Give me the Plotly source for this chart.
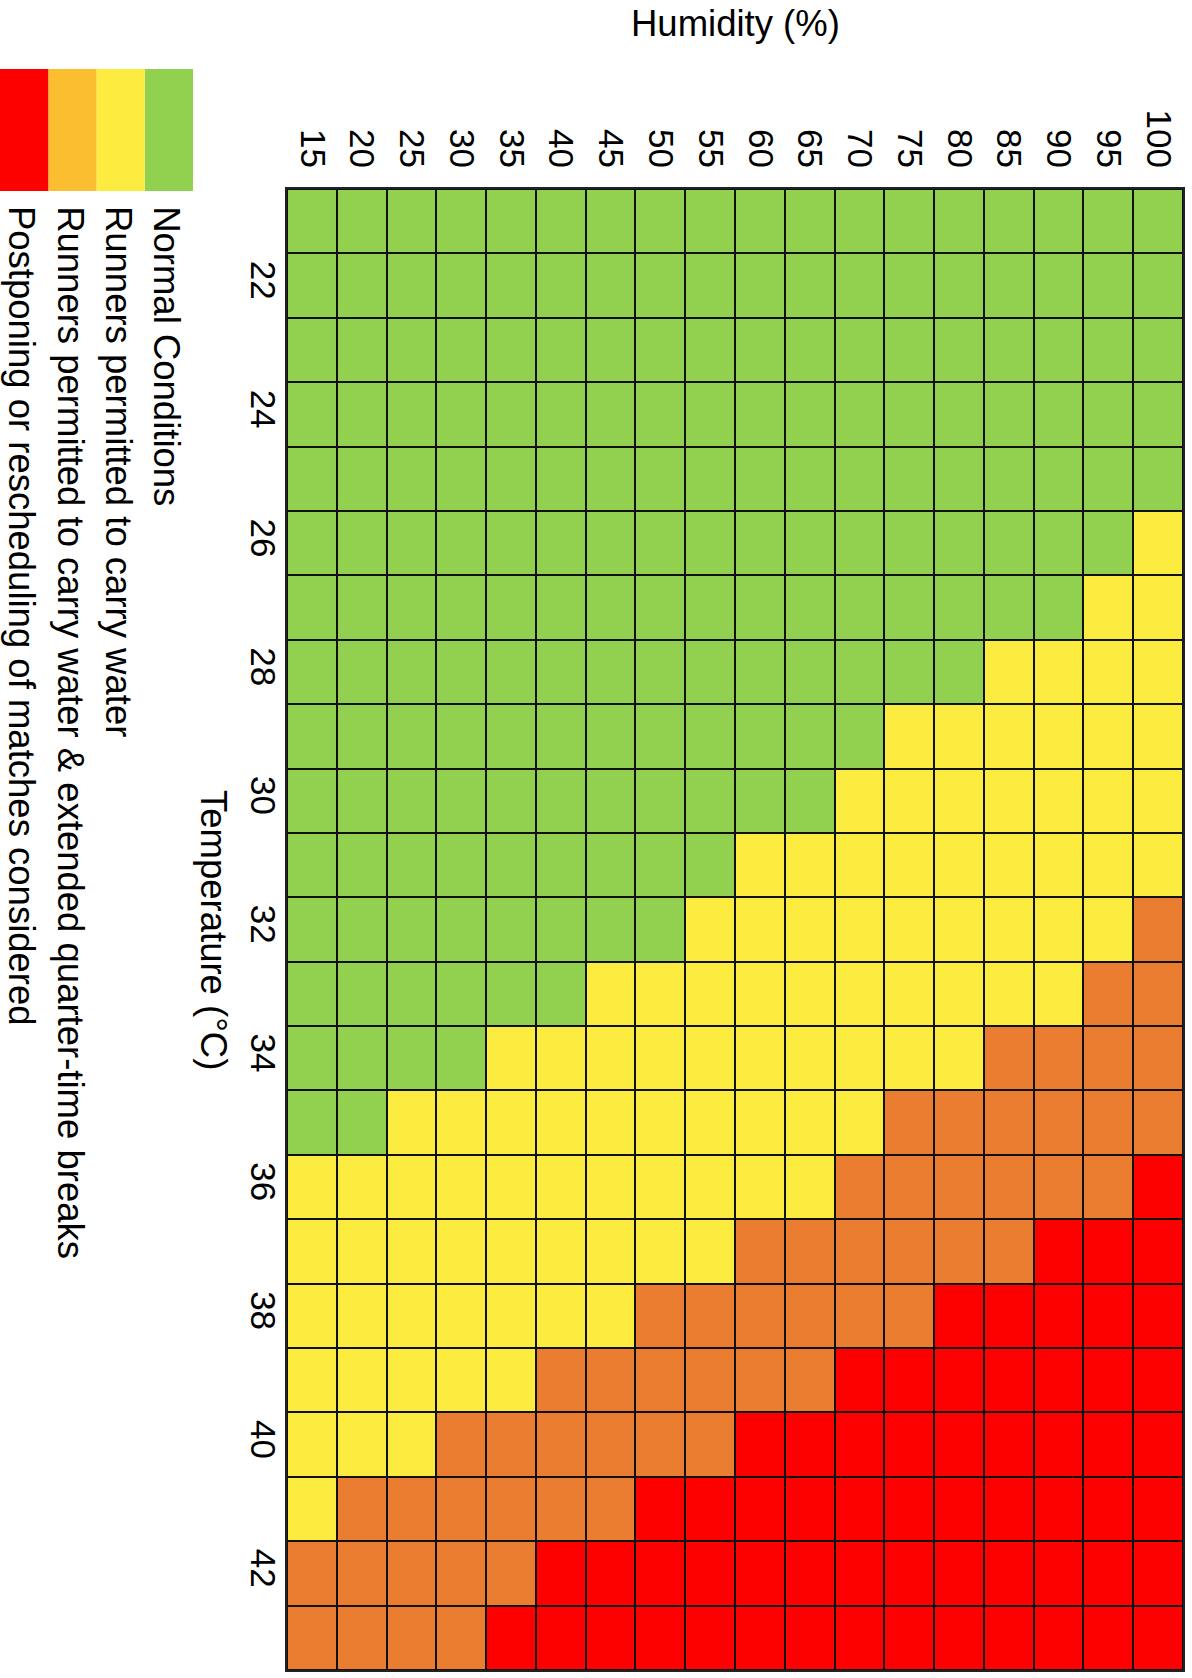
import plotly.graph_objects as go

# ---------------- data ----------------
humidity = [15, 20, 25, 30, 35, 40, 45, 50, 55, 60, 65, 70, 75, 80, 85, 90, 95, 100]
temperature = [21, 22, 23, 24, 25, 26, 27, 28, 29, 30, 31, 32, 33, 34, 35, 36, 37, 38, 39, 40, 41, 42, 43]
temp_ticks = [22, 24, 26, 28, 30, 32, 34, 36, 38, 40, 42]

categories = [
    "Normal Conditions",
    "Runners permitted to carry water",
    "Runners permitted to carry water & extended quarter-time breaks",
    "Postponing or rescheduling of matches considered",
]
cell_colors = ["#92D050", "#FBEC3F", "#EB7D31", "#FD0000"]
legend_colors = ["#92D050", "#FBEC3F", "#FBBE30", "#FD0000"]

# risk level (index into categories) per temperature row, per humidity column
risk = [
    [0, 0, 0, 0, 0, 0, 0, 0, 0, 0, 0, 0, 0, 0, 0, 0, 0, 0],  # 21
    [0, 0, 0, 0, 0, 0, 0, 0, 0, 0, 0, 0, 0, 0, 0, 0, 0, 0],  # 22
    [0, 0, 0, 0, 0, 0, 0, 0, 0, 0, 0, 0, 0, 0, 0, 0, 0, 0],  # 23
    [0, 0, 0, 0, 0, 0, 0, 0, 0, 0, 0, 0, 0, 0, 0, 0, 0, 0],  # 24
    [0, 0, 0, 0, 0, 0, 0, 0, 0, 0, 0, 0, 0, 0, 0, 0, 0, 0],  # 25
    [0, 0, 0, 0, 0, 0, 0, 0, 0, 0, 0, 0, 0, 0, 0, 0, 0, 1],  # 26
    [0, 0, 0, 0, 0, 0, 0, 0, 0, 0, 0, 0, 0, 0, 0, 0, 1, 1],  # 27
    [0, 0, 0, 0, 0, 0, 0, 0, 0, 0, 0, 0, 0, 0, 1, 1, 1, 1],  # 28
    [0, 0, 0, 0, 0, 0, 0, 0, 0, 0, 0, 0, 1, 1, 1, 1, 1, 1],  # 29
    [0, 0, 0, 0, 0, 0, 0, 0, 0, 0, 0, 1, 1, 1, 1, 1, 1, 1],  # 30
    [0, 0, 0, 0, 0, 0, 0, 0, 0, 1, 1, 1, 1, 1, 1, 1, 1, 1],  # 31
    [0, 0, 0, 0, 0, 0, 0, 0, 1, 1, 1, 1, 1, 1, 1, 1, 1, 2],  # 32
    [0, 0, 0, 0, 0, 0, 1, 1, 1, 1, 1, 1, 1, 1, 1, 1, 2, 2],  # 33
    [0, 0, 0, 0, 1, 1, 1, 1, 1, 1, 1, 1, 1, 1, 2, 2, 2, 2],  # 34
    [0, 0, 1, 1, 1, 1, 1, 1, 1, 1, 1, 1, 2, 2, 2, 2, 2, 2],  # 35
    [1, 1, 1, 1, 1, 1, 1, 1, 1, 1, 1, 2, 2, 2, 2, 2, 2, 3],  # 36
    [1, 1, 1, 1, 1, 1, 1, 1, 1, 2, 2, 2, 2, 2, 2, 3, 3, 3],  # 37
    [1, 1, 1, 1, 1, 1, 1, 2, 2, 2, 2, 2, 2, 3, 3, 3, 3, 3],  # 38
    [1, 1, 1, 1, 1, 2, 2, 2, 2, 2, 2, 3, 3, 3, 3, 3, 3, 3],  # 39
    [1, 1, 1, 2, 2, 2, 2, 2, 2, 3, 3, 3, 3, 3, 3, 3, 3, 3],  # 40
    [1, 2, 2, 2, 2, 2, 2, 3, 3, 3, 3, 3, 3, 3, 3, 3, 3, 3],  # 41
    [2, 2, 2, 2, 2, 3, 3, 3, 3, 3, 3, 3, 3, 3, 3, 3, 3, 3],  # 42
    [2, 2, 2, 2, 3, 3, 3, 3, 3, 3, 3, 3, 3, 3, 3, 3, 3, 3],  # 43
]

# ---------------- layout geometry ----------------
W, H = 1192, 1678
L, R, T, B = 287, 9, 189, 8
PW, PH = W - L - R, H - T - B
FONT = "Liberation Sans, Arial, sans-serif"


def px_x(px):
    return (px - L) / PW


def px_y(py):
    return 1 - (py - T) / PH


n = len(categories)
colorscale = []
for i, c in enumerate(cell_colors):
    colorscale.append([i / n, c])
    colorscale.append([(i + 1) / n, c])

fig = go.Figure(
    go.Heatmap(
        x=humidity,
        y=temperature,
        z=risk,
        zmin=-0.5,
        zmax=n - 0.5,
        colorscale=colorscale,
        showscale=False,
        xgap=2,
        ygap=2,
        hoverinfo="skip",
    )
)

fig.update_layout(
    width=W,
    height=H,
    margin=dict(l=L, r=R, t=T, b=B, pad=0, autoexpand=False),
    paper_bgcolor="white",
    plot_bgcolor="#111111",
    font=dict(family=FONT, size=36, color="black"),
    showlegend=False,
)

fig.update_xaxes(
    side="top",
    tickmode="array",
    tickvals=humidity,
    ticktext=[str(h) for h in humidity],
    tickangle=90,
    ticks="",
    ticklen=0,
    ticklabelstandoff=7,
    showgrid=False,
    zeroline=False,
    showline=True,
    mirror=True,
    linecolor="#222222",
    linewidth=1.5,
    range=[humidity[0] - 2.5, humidity[-1] + 2.5],
    tickfont=dict(size=35),
)
fig.update_yaxes(
    tickmode="array",
    tickvals=temp_ticks,
    ticktext=[str(t) for t in temp_ticks],
    tickangle=90,
    ticks="",
    ticklen=0,
    ticklabelstandoff=-8,
    showgrid=False,
    zeroline=False,
    showline=True,
    mirror=True,
    linecolor="#222222",
    linewidth=1.5,
    range=[temperature[-1] + 0.5, temperature[0] - 0.5],
    tickfont=dict(size=35),
)

annotations = [
    dict(
        text="Humidity (%)", xref="paper", yref="paper",
        x=px_x(735), y=px_y(24), xanchor="center", yanchor="middle",
        showarrow=False, font=dict(size=36.5),
    ),
    dict(
        text="Temperature (°C)", xref="paper", yref="paper",
        x=px_x(214), y=px_y(930), xanchor="center", yanchor="middle",
        textangle=90, showarrow=False, font=dict(size=36.5),
    ),
]

shapes = []
sw_left, sw_w, sw_top, sw_bot = 0, 48.25, 69, 191
# legend drawn right-to-left: first category at the right
for i, (label, col) in enumerate(zip(categories, legend_colors)):
    k = n - 1 - i
    x0 = sw_left + k * sw_w
    x1 = x0 + sw_w
    shapes.append(dict(
        type="rect", xref="paper", yref="paper",
        x0=px_x(x0), x1=px_x(x1), y0=px_y(sw_bot), y1=px_y(sw_top),
        fillcolor=col, line=dict(width=0), layer="above",
    ))
    annotations.append(dict(
        text=label, xref="paper", yref="paper",
        x=px_x((x0 + x1) / 2 - 2), y=px_y(204), xanchor="center", yanchor="top",
        textangle=90, showarrow=False, font=dict(size=36.5),
    ))

fig.update_layout(annotations=annotations, shapes=shapes)

# remove the browser's default 8px page margin so the figure sits at (0, 0)
fig.write_html(
    "out.html",
    config={"displayModeBar": False},
    post_script="document.body.style.margin='0';",
)
